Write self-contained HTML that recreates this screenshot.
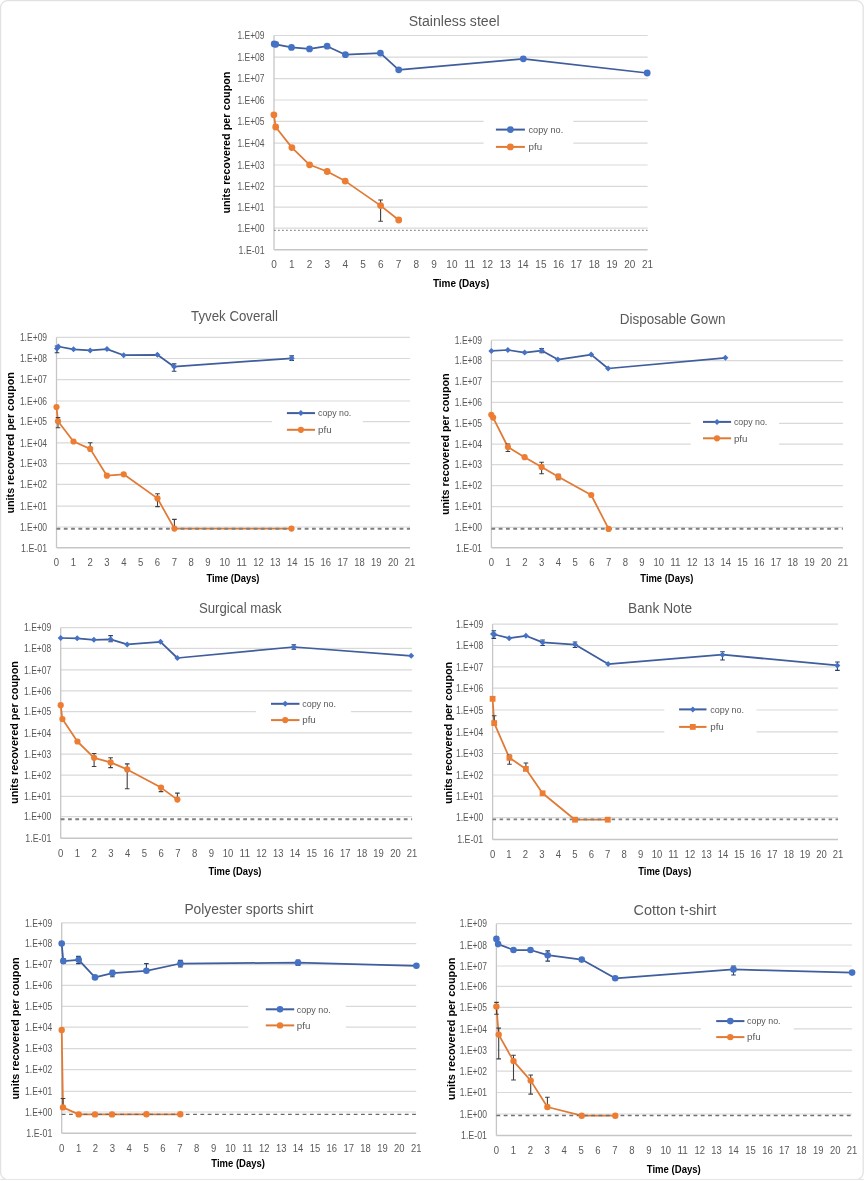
<!DOCTYPE html>
<html><head><meta charset="utf-8"><title>Coronavirus persistence on surfaces</title>
<style>
html,body{margin:0;padding:0;background:#fff;}
body{width:864px;height:1181px;overflow:hidden;}
svg{display:block;font-family:'Liberation Sans', Arial, sans-serif;}
</style></head>
<body>
<svg width="864" height="1181" viewBox="0 0 864 1181">
<defs><filter id="bl" x="0" y="0" width="1" height="1"><feGaussianBlur stdDeviation="0.35"/></filter></defs>
<rect x="0" y="0" width="864" height="1181" fill="#fff"/>
<g filter="url(#bl)">
<rect x="0.6" y="0.6" width="862.6" height="1179" rx="7" ry="7" fill="none" stroke="#e2e2e2" stroke-width="1.3"/>
<line x1="0" y1="1180" x2="864" y2="1180" stroke="#e6e6e6" stroke-width="2"/>
<line x1="274" y1="35.5" x2="647.6" y2="35.5" stroke="#d9d9d9" stroke-width="1.2"/>
<line x1="274" y1="57.1" x2="647.6" y2="57.1" stroke="#d9d9d9" stroke-width="1.2"/>
<line x1="274" y1="78.7" x2="647.6" y2="78.7" stroke="#d9d9d9" stroke-width="1.2"/>
<line x1="274" y1="100" x2="647.6" y2="100" stroke="#d9d9d9" stroke-width="1.2"/>
<line x1="274" y1="121.4" x2="647.6" y2="121.4" stroke="#d9d9d9" stroke-width="1.2"/>
<line x1="274" y1="143.2" x2="647.6" y2="143.2" stroke="#d9d9d9" stroke-width="1.2"/>
<line x1="274" y1="165" x2="647.6" y2="165" stroke="#d9d9d9" stroke-width="1.2"/>
<line x1="274" y1="186.4" x2="647.6" y2="186.4" stroke="#d9d9d9" stroke-width="1.2"/>
<line x1="274" y1="207.1" x2="647.6" y2="207.1" stroke="#d9d9d9" stroke-width="1.2"/>
<line x1="274" y1="228.1" x2="647.6" y2="228.1" stroke="#d9d9d9" stroke-width="1.2"/>
<rect x="483.6" y="115" width="89.7" height="40" fill="#fff"/>
<line x1="274" y1="249.8" x2="647.6" y2="249.8" stroke="#c6c6c6" stroke-width="1.5"/>
<line x1="274" y1="35.5" x2="274" y2="249.8" stroke="#c6c6c6" stroke-width="1.3"/>
<text x="264.6" y="39.2" text-anchor="end" font-size="11.2" fill="#595959" textLength="27.2" lengthAdjust="spacingAndGlyphs">1.E+09</text>
<text x="264.6" y="60.8" text-anchor="end" font-size="11.2" fill="#595959" textLength="27.2" lengthAdjust="spacingAndGlyphs">1.E+08</text>
<text x="264.6" y="82.4" text-anchor="end" font-size="11.2" fill="#595959" textLength="27.2" lengthAdjust="spacingAndGlyphs">1.E+07</text>
<text x="264.6" y="103.7" text-anchor="end" font-size="11.2" fill="#595959" textLength="27.2" lengthAdjust="spacingAndGlyphs">1.E+06</text>
<text x="264.6" y="125.1" text-anchor="end" font-size="11.2" fill="#595959" textLength="27.2" lengthAdjust="spacingAndGlyphs">1.E+05</text>
<text x="264.6" y="146.9" text-anchor="end" font-size="11.2" fill="#595959" textLength="27.2" lengthAdjust="spacingAndGlyphs">1.E+04</text>
<text x="264.6" y="168.7" text-anchor="end" font-size="11.2" fill="#595959" textLength="27.2" lengthAdjust="spacingAndGlyphs">1.E+03</text>
<text x="264.6" y="190.1" text-anchor="end" font-size="11.2" fill="#595959" textLength="27.2" lengthAdjust="spacingAndGlyphs">1.E+02</text>
<text x="264.6" y="210.8" text-anchor="end" font-size="11.2" fill="#595959" textLength="27.2" lengthAdjust="spacingAndGlyphs">1.E+01</text>
<text x="264.6" y="231.8" text-anchor="end" font-size="11.2" fill="#595959" textLength="27.2" lengthAdjust="spacingAndGlyphs">1.E+00</text>
<text x="264.6" y="253.5" text-anchor="end" font-size="11.2" fill="#595959" textLength="26.0" lengthAdjust="spacingAndGlyphs">1.E-01</text>
<text x="274" y="268.2" text-anchor="middle" font-size="11" fill="#595959" textLength="5.6" lengthAdjust="spacingAndGlyphs">0</text>
<text x="291.8" y="268.2" text-anchor="middle" font-size="11" fill="#595959" textLength="5.6" lengthAdjust="spacingAndGlyphs">1</text>
<text x="309.6" y="268.2" text-anchor="middle" font-size="11" fill="#595959" textLength="5.6" lengthAdjust="spacingAndGlyphs">2</text>
<text x="327.4" y="268.2" text-anchor="middle" font-size="11" fill="#595959" textLength="5.6" lengthAdjust="spacingAndGlyphs">3</text>
<text x="345.2" y="268.2" text-anchor="middle" font-size="11" fill="#595959" textLength="5.6" lengthAdjust="spacingAndGlyphs">4</text>
<text x="363" y="268.2" text-anchor="middle" font-size="11" fill="#595959" textLength="5.6" lengthAdjust="spacingAndGlyphs">5</text>
<text x="380.7" y="268.2" text-anchor="middle" font-size="11" fill="#595959" textLength="5.6" lengthAdjust="spacingAndGlyphs">6</text>
<text x="398.5" y="268.2" text-anchor="middle" font-size="11" fill="#595959" textLength="5.6" lengthAdjust="spacingAndGlyphs">7</text>
<text x="416.3" y="268.2" text-anchor="middle" font-size="11" fill="#595959" textLength="5.6" lengthAdjust="spacingAndGlyphs">8</text>
<text x="434.1" y="268.2" text-anchor="middle" font-size="11" fill="#595959" textLength="5.6" lengthAdjust="spacingAndGlyphs">9</text>
<text x="451.9" y="268.2" text-anchor="middle" font-size="11" fill="#595959" textLength="11.1" lengthAdjust="spacingAndGlyphs">10</text>
<text x="469.7" y="268.2" text-anchor="middle" font-size="11" fill="#595959" textLength="11.1" lengthAdjust="spacingAndGlyphs">11</text>
<text x="487.5" y="268.2" text-anchor="middle" font-size="11" fill="#595959" textLength="11.1" lengthAdjust="spacingAndGlyphs">12</text>
<text x="505.3" y="268.2" text-anchor="middle" font-size="11" fill="#595959" textLength="11.1" lengthAdjust="spacingAndGlyphs">13</text>
<text x="523.1" y="268.2" text-anchor="middle" font-size="11" fill="#595959" textLength="11.1" lengthAdjust="spacingAndGlyphs">14</text>
<text x="540.9" y="268.2" text-anchor="middle" font-size="11" fill="#595959" textLength="11.1" lengthAdjust="spacingAndGlyphs">15</text>
<text x="558.6" y="268.2" text-anchor="middle" font-size="11" fill="#595959" textLength="11.1" lengthAdjust="spacingAndGlyphs">16</text>
<text x="576.4" y="268.2" text-anchor="middle" font-size="11" fill="#595959" textLength="11.1" lengthAdjust="spacingAndGlyphs">17</text>
<text x="594.2" y="268.2" text-anchor="middle" font-size="11" fill="#595959" textLength="11.1" lengthAdjust="spacingAndGlyphs">18</text>
<text x="612" y="268.2" text-anchor="middle" font-size="11" fill="#595959" textLength="11.1" lengthAdjust="spacingAndGlyphs">19</text>
<text x="629.8" y="268.2" text-anchor="middle" font-size="11" fill="#595959" textLength="11.1" lengthAdjust="spacingAndGlyphs">20</text>
<text x="647.6" y="268.2" text-anchor="middle" font-size="11" fill="#595959" textLength="11.1" lengthAdjust="spacingAndGlyphs">21</text>
<text x="408.7" y="26.1" font-size="15.5" fill="#595959" textLength="91" lengthAdjust="spacingAndGlyphs">Stainless steel</text>
<text x="432.9" y="286.6" font-size="11" font-weight="bold" fill="#000" textLength="56.4" lengthAdjust="spacingAndGlyphs">Time (Days)</text>
<text transform="translate(229.8 213.6) rotate(-90)" x="0" y="0" font-size="11" font-weight="bold" fill="#000" textLength="142" lengthAdjust="spacingAndGlyphs">units recovered per coupon</text>
<polyline points="274.2,44 275.8,44.3 291.5,47.4 309.5,48.9 327.1,46.2 345.4,54.7 380.4,53.1 398.7,69.8 523.3,58.8 647.2,73" fill="none" stroke="#3f5d9c" stroke-width="1.75" stroke-linejoin="round"/>
<polyline points="273.9,114.8 275.7,127 291.9,147.6 309.6,164.8 327.2,171.5 345.2,181.1 380.6,205.6 398.7,220" fill="none" stroke="#e07a35" stroke-width="1.75" stroke-linejoin="round"/>
<line x1="274" y1="230.3" x2="647.6" y2="230.3" stroke="#7a7a7a" stroke-width="1.0" stroke-dasharray="1.8 2.2"/>
<path d="M380.6 200V221.3M378.3 200H382.9M378.3 221.3H382.9" stroke="#404040" stroke-width="1.1" fill="none"/>
<circle cx="274.2" cy="44" r="3.4" fill="#4472C4"/>
<circle cx="275.8" cy="44.3" r="3.4" fill="#4472C4"/>
<circle cx="291.5" cy="47.4" r="3.4" fill="#4472C4"/>
<circle cx="309.5" cy="48.9" r="3.4" fill="#4472C4"/>
<circle cx="327.1" cy="46.2" r="3.4" fill="#4472C4"/>
<circle cx="345.4" cy="54.7" r="3.4" fill="#4472C4"/>
<circle cx="380.4" cy="53.1" r="3.4" fill="#4472C4"/>
<circle cx="398.7" cy="69.8" r="3.4" fill="#4472C4"/>
<circle cx="523.3" cy="58.8" r="3.4" fill="#4472C4"/>
<circle cx="647.2" cy="73" r="3.4" fill="#4472C4"/>
<circle cx="273.9" cy="114.8" r="3.4" fill="#ED7D31"/>
<circle cx="275.7" cy="127" r="3.4" fill="#ED7D31"/>
<circle cx="291.9" cy="147.6" r="3.4" fill="#ED7D31"/>
<circle cx="309.6" cy="164.8" r="3.4" fill="#ED7D31"/>
<circle cx="327.2" cy="171.5" r="3.4" fill="#ED7D31"/>
<circle cx="345.2" cy="181.1" r="3.4" fill="#ED7D31"/>
<circle cx="380.6" cy="205.6" r="3.4" fill="#ED7D31"/>
<circle cx="398.7" cy="220" r="3.4" fill="#ED7D31"/>
<line x1="495.9" y1="129.6" x2="524.9" y2="129.6" stroke="#3f5d9c" stroke-width="2"/>
<line x1="495.9" y1="146.9" x2="524.9" y2="146.9" stroke="#e07a35" stroke-width="2"/>
<circle cx="510.4" cy="129.6" r="3.4" fill="#4472C4"/>
<circle cx="510.4" cy="146.9" r="3.4" fill="#ED7D31"/>
<text x="528.5" y="132.9" font-size="9.6" fill="#595959" textLength="34.7" lengthAdjust="spacingAndGlyphs">copy no.</text>
<text x="528.5" y="150.2" font-size="9.6" fill="#595959" textLength="13.6" lengthAdjust="spacingAndGlyphs">pfu</text>
<line x1="56.5" y1="337.4" x2="410" y2="337.4" stroke="#d9d9d9" stroke-width="1.2"/>
<line x1="56.5" y1="358.5" x2="410" y2="358.5" stroke="#d9d9d9" stroke-width="1.2"/>
<line x1="56.5" y1="379.6" x2="410" y2="379.6" stroke="#d9d9d9" stroke-width="1.2"/>
<line x1="56.5" y1="401" x2="410" y2="401" stroke="#d9d9d9" stroke-width="1.2"/>
<line x1="56.5" y1="421.7" x2="410" y2="421.7" stroke="#d9d9d9" stroke-width="1.2"/>
<line x1="56.5" y1="442.8" x2="410" y2="442.8" stroke="#d9d9d9" stroke-width="1.2"/>
<line x1="56.5" y1="463.7" x2="410" y2="463.7" stroke="#d9d9d9" stroke-width="1.2"/>
<line x1="56.5" y1="484.4" x2="410" y2="484.4" stroke="#d9d9d9" stroke-width="1.2"/>
<line x1="56.5" y1="506.1" x2="410" y2="506.1" stroke="#d9d9d9" stroke-width="1.2"/>
<line x1="56.5" y1="527" x2="410" y2="527" stroke="#d9d9d9" stroke-width="1.2"/>
<rect x="272" y="405" width="90.8" height="33" fill="#fff"/>
<line x1="56.5" y1="547.8" x2="410" y2="547.8" stroke="#c6c6c6" stroke-width="1.5"/>
<line x1="56.5" y1="337.4" x2="56.5" y2="547.8" stroke="#c6c6c6" stroke-width="1.3"/>
<text x="47.1" y="341.1" text-anchor="end" font-size="10.6" fill="#595959" textLength="27.2" lengthAdjust="spacingAndGlyphs">1.E+09</text>
<text x="47.1" y="362.2" text-anchor="end" font-size="10.6" fill="#595959" textLength="27.2" lengthAdjust="spacingAndGlyphs">1.E+08</text>
<text x="47.1" y="383.3" text-anchor="end" font-size="10.6" fill="#595959" textLength="27.2" lengthAdjust="spacingAndGlyphs">1.E+07</text>
<text x="47.1" y="404.7" text-anchor="end" font-size="10.6" fill="#595959" textLength="27.2" lengthAdjust="spacingAndGlyphs">1.E+06</text>
<text x="47.1" y="425.4" text-anchor="end" font-size="10.6" fill="#595959" textLength="27.2" lengthAdjust="spacingAndGlyphs">1.E+05</text>
<text x="47.1" y="446.5" text-anchor="end" font-size="10.6" fill="#595959" textLength="27.2" lengthAdjust="spacingAndGlyphs">1.E+04</text>
<text x="47.1" y="467.4" text-anchor="end" font-size="10.6" fill="#595959" textLength="27.2" lengthAdjust="spacingAndGlyphs">1.E+03</text>
<text x="47.1" y="488.1" text-anchor="end" font-size="10.6" fill="#595959" textLength="27.2" lengthAdjust="spacingAndGlyphs">1.E+02</text>
<text x="47.1" y="509.8" text-anchor="end" font-size="10.6" fill="#595959" textLength="27.2" lengthAdjust="spacingAndGlyphs">1.E+01</text>
<text x="47.1" y="530.7" text-anchor="end" font-size="10.6" fill="#595959" textLength="27.2" lengthAdjust="spacingAndGlyphs">1.E+00</text>
<text x="47.1" y="551.5" text-anchor="end" font-size="10.6" fill="#595959" textLength="26.0" lengthAdjust="spacingAndGlyphs">1.E-01</text>
<text x="56.5" y="566.2" text-anchor="middle" font-size="10.4" fill="#595959" textLength="5.3" lengthAdjust="spacingAndGlyphs">0</text>
<text x="73.3" y="566.2" text-anchor="middle" font-size="10.4" fill="#595959" textLength="5.3" lengthAdjust="spacingAndGlyphs">1</text>
<text x="90.2" y="566.2" text-anchor="middle" font-size="10.4" fill="#595959" textLength="5.3" lengthAdjust="spacingAndGlyphs">2</text>
<text x="107" y="566.2" text-anchor="middle" font-size="10.4" fill="#595959" textLength="5.3" lengthAdjust="spacingAndGlyphs">3</text>
<text x="123.8" y="566.2" text-anchor="middle" font-size="10.4" fill="#595959" textLength="5.3" lengthAdjust="spacingAndGlyphs">4</text>
<text x="140.7" y="566.2" text-anchor="middle" font-size="10.4" fill="#595959" textLength="5.3" lengthAdjust="spacingAndGlyphs">5</text>
<text x="157.5" y="566.2" text-anchor="middle" font-size="10.4" fill="#595959" textLength="5.3" lengthAdjust="spacingAndGlyphs">6</text>
<text x="174.3" y="566.2" text-anchor="middle" font-size="10.4" fill="#595959" textLength="5.3" lengthAdjust="spacingAndGlyphs">7</text>
<text x="191.2" y="566.2" text-anchor="middle" font-size="10.4" fill="#595959" textLength="5.3" lengthAdjust="spacingAndGlyphs">8</text>
<text x="208" y="566.2" text-anchor="middle" font-size="10.4" fill="#595959" textLength="5.3" lengthAdjust="spacingAndGlyphs">9</text>
<text x="224.8" y="566.2" text-anchor="middle" font-size="10.4" fill="#595959" textLength="10.5" lengthAdjust="spacingAndGlyphs">10</text>
<text x="241.7" y="566.2" text-anchor="middle" font-size="10.4" fill="#595959" textLength="10.5" lengthAdjust="spacingAndGlyphs">11</text>
<text x="258.5" y="566.2" text-anchor="middle" font-size="10.4" fill="#595959" textLength="10.5" lengthAdjust="spacingAndGlyphs">12</text>
<text x="275.3" y="566.2" text-anchor="middle" font-size="10.4" fill="#595959" textLength="10.5" lengthAdjust="spacingAndGlyphs">13</text>
<text x="292.2" y="566.2" text-anchor="middle" font-size="10.4" fill="#595959" textLength="10.5" lengthAdjust="spacingAndGlyphs">14</text>
<text x="309" y="566.2" text-anchor="middle" font-size="10.4" fill="#595959" textLength="10.5" lengthAdjust="spacingAndGlyphs">15</text>
<text x="325.8" y="566.2" text-anchor="middle" font-size="10.4" fill="#595959" textLength="10.5" lengthAdjust="spacingAndGlyphs">16</text>
<text x="342.7" y="566.2" text-anchor="middle" font-size="10.4" fill="#595959" textLength="10.5" lengthAdjust="spacingAndGlyphs">17</text>
<text x="359.5" y="566.2" text-anchor="middle" font-size="10.4" fill="#595959" textLength="10.5" lengthAdjust="spacingAndGlyphs">18</text>
<text x="376.3" y="566.2" text-anchor="middle" font-size="10.4" fill="#595959" textLength="10.5" lengthAdjust="spacingAndGlyphs">19</text>
<text x="393.2" y="566.2" text-anchor="middle" font-size="10.4" fill="#595959" textLength="10.5" lengthAdjust="spacingAndGlyphs">20</text>
<text x="410" y="566.2" text-anchor="middle" font-size="10.4" fill="#595959" textLength="10.5" lengthAdjust="spacingAndGlyphs">21</text>
<text x="191.1" y="321.3" font-size="14.6" fill="#595959" textLength="86.9" lengthAdjust="spacingAndGlyphs">Tyvek Coverall</text>
<text x="206.4" y="581.9" font-size="10.4" font-weight="bold" fill="#000" textLength="53.1" lengthAdjust="spacingAndGlyphs">Time (Days)</text>
<text transform="translate(14.1 513.5) rotate(-90)" x="0" y="0" font-size="10.4" font-weight="bold" fill="#000" textLength="141.3" lengthAdjust="spacingAndGlyphs">units recovered per coupon</text>
<polyline points="57,348.5 58.3,346.5 73.5,349.3 90.2,350.4 107,349.1 123.7,355.2 157.4,354.8 174.1,366.7 291.7,358.3" fill="none" stroke="#3f5d9c" stroke-width="1.75" stroke-linejoin="round"/>
<polyline points="56.5,407 58,421.3 73.5,441.5 90.2,448.9 106.9,475.7 123.7,474.3 157.5,498.4 174.4,528.6 291.5,528.6" fill="none" stroke="#e07a35" stroke-width="1.75" stroke-linejoin="round"/>
<line x1="56.5" y1="528.7" x2="410" y2="528.7" stroke="#7f7f7f" stroke-width="1.9" stroke-dasharray="3.8 3.5"/>
<path d="M57 346V352.8M54.7 346H59.3M54.7 352.8H59.3" stroke="#2b3f66" stroke-width="1.1" fill="none"/>
<path d="M174.1 363.9V371.3M171.8 363.9H176.4M171.8 371.3H176.4" stroke="#2b3f66" stroke-width="1.1" fill="none"/>
<path d="M291.7 355.9V360.4M289.4 355.9H294M289.4 360.4H294" stroke="#2b3f66" stroke-width="1.1" fill="none"/>
<path d="M58 417.6V427.8M55.7 417.6H60.3M55.7 427.8H60.3" stroke="#404040" stroke-width="1.1" fill="none"/>
<path d="M90.2 442.8V448.9M87.9 442.8H92.5" stroke="#404040" stroke-width="1.1" fill="none"/>
<path d="M157.5 493.8V506.6M155.2 493.8H159.8M155.2 506.6H159.8" stroke="#404040" stroke-width="1.1" fill="none"/>
<path d="M174.4 519.4V528.6M172.1 519.4H176.7" stroke="#404040" stroke-width="1.1" fill="none"/>
<path d="M57 345.5L60 348.5L57 351.5L54 348.5Z" fill="#4472C4"/>
<path d="M58.3 343.5L61.3 346.5L58.3 349.5L55.3 346.5Z" fill="#4472C4"/>
<path d="M73.5 346.3L76.5 349.3L73.5 352.3L70.5 349.3Z" fill="#4472C4"/>
<path d="M90.2 347.4L93.2 350.4L90.2 353.4L87.2 350.4Z" fill="#4472C4"/>
<path d="M107 346.1L110 349.1L107 352.1L104 349.1Z" fill="#4472C4"/>
<path d="M123.7 352.2L126.7 355.2L123.7 358.2L120.7 355.2Z" fill="#4472C4"/>
<path d="M157.4 351.8L160.4 354.8L157.4 357.8L154.4 354.8Z" fill="#4472C4"/>
<path d="M174.1 363.7L177.1 366.7L174.1 369.7L171.1 366.7Z" fill="#4472C4"/>
<path d="M291.7 355.3L294.7 358.3L291.7 361.3L288.7 358.3Z" fill="#4472C4"/>
<circle cx="56.5" cy="407" r="3.1" fill="#ED7D31"/>
<circle cx="58" cy="421.3" r="3.1" fill="#ED7D31"/>
<circle cx="73.5" cy="441.5" r="3.1" fill="#ED7D31"/>
<circle cx="90.2" cy="448.9" r="3.1" fill="#ED7D31"/>
<circle cx="106.9" cy="475.7" r="3.1" fill="#ED7D31"/>
<circle cx="123.7" cy="474.3" r="3.1" fill="#ED7D31"/>
<circle cx="157.5" cy="498.4" r="3.1" fill="#ED7D31"/>
<circle cx="174.4" cy="528.6" r="3.1" fill="#ED7D31"/>
<circle cx="291.5" cy="528.6" r="3.1" fill="#ED7D31"/>
<line x1="286.9" y1="413.1" x2="315" y2="413.1" stroke="#3f5d9c" stroke-width="2"/>
<line x1="286.9" y1="429.8" x2="315" y2="429.8" stroke="#e07a35" stroke-width="2"/>
<path d="M300.9 410.1L303.9 413.1L300.9 416.1L297.9 413.1Z" fill="#4472C4"/>
<circle cx="300.9" cy="429.8" r="3.1" fill="#ED7D31"/>
<text x="318" y="416.4" font-size="9.6" fill="#595959" textLength="33.3" lengthAdjust="spacingAndGlyphs">copy no.</text>
<text x="318" y="433.1" font-size="9.6" fill="#595959" textLength="13.6" lengthAdjust="spacingAndGlyphs">pfu</text>
<line x1="491.4" y1="340.2" x2="842.9" y2="340.2" stroke="#d9d9d9" stroke-width="1.2"/>
<line x1="491.4" y1="360.7" x2="842.9" y2="360.7" stroke="#d9d9d9" stroke-width="1.2"/>
<line x1="491.4" y1="381.7" x2="842.9" y2="381.7" stroke="#d9d9d9" stroke-width="1.2"/>
<line x1="491.4" y1="402.4" x2="842.9" y2="402.4" stroke="#d9d9d9" stroke-width="1.2"/>
<line x1="491.4" y1="423.3" x2="842.9" y2="423.3" stroke="#d9d9d9" stroke-width="1.2"/>
<line x1="491.4" y1="444.2" x2="842.9" y2="444.2" stroke="#d9d9d9" stroke-width="1.2"/>
<line x1="491.4" y1="464.6" x2="842.9" y2="464.6" stroke="#d9d9d9" stroke-width="1.2"/>
<line x1="491.4" y1="485.7" x2="842.9" y2="485.7" stroke="#d9d9d9" stroke-width="1.2"/>
<line x1="491.4" y1="506.7" x2="842.9" y2="506.7" stroke="#d9d9d9" stroke-width="1.2"/>
<line x1="491.4" y1="527.3" x2="842.9" y2="527.3" stroke="#d9d9d9" stroke-width="1.2"/>
<rect x="690.6" y="412" width="88.4" height="37" fill="#fff"/>
<line x1="491.4" y1="547.8" x2="842.9" y2="547.8" stroke="#c6c6c6" stroke-width="1.5"/>
<line x1="491.4" y1="340.2" x2="491.4" y2="547.8" stroke="#c6c6c6" stroke-width="1.3"/>
<text x="482" y="343.9" text-anchor="end" font-size="10.6" fill="#595959" textLength="27.2" lengthAdjust="spacingAndGlyphs">1.E+09</text>
<text x="482" y="364.4" text-anchor="end" font-size="10.6" fill="#595959" textLength="27.2" lengthAdjust="spacingAndGlyphs">1.E+08</text>
<text x="482" y="385.4" text-anchor="end" font-size="10.6" fill="#595959" textLength="27.2" lengthAdjust="spacingAndGlyphs">1.E+07</text>
<text x="482" y="406.1" text-anchor="end" font-size="10.6" fill="#595959" textLength="27.2" lengthAdjust="spacingAndGlyphs">1.E+06</text>
<text x="482" y="427" text-anchor="end" font-size="10.6" fill="#595959" textLength="27.2" lengthAdjust="spacingAndGlyphs">1.E+05</text>
<text x="482" y="447.9" text-anchor="end" font-size="10.6" fill="#595959" textLength="27.2" lengthAdjust="spacingAndGlyphs">1.E+04</text>
<text x="482" y="468.3" text-anchor="end" font-size="10.6" fill="#595959" textLength="27.2" lengthAdjust="spacingAndGlyphs">1.E+03</text>
<text x="482" y="489.4" text-anchor="end" font-size="10.6" fill="#595959" textLength="27.2" lengthAdjust="spacingAndGlyphs">1.E+02</text>
<text x="482" y="510.4" text-anchor="end" font-size="10.6" fill="#595959" textLength="27.2" lengthAdjust="spacingAndGlyphs">1.E+01</text>
<text x="482" y="531" text-anchor="end" font-size="10.6" fill="#595959" textLength="27.2" lengthAdjust="spacingAndGlyphs">1.E+00</text>
<text x="482" y="551.5" text-anchor="end" font-size="10.6" fill="#595959" textLength="26.0" lengthAdjust="spacingAndGlyphs">1.E-01</text>
<text x="491.4" y="566.2" text-anchor="middle" font-size="10.4" fill="#595959" textLength="5.3" lengthAdjust="spacingAndGlyphs">0</text>
<text x="508.1" y="566.2" text-anchor="middle" font-size="10.4" fill="#595959" textLength="5.3" lengthAdjust="spacingAndGlyphs">1</text>
<text x="524.9" y="566.2" text-anchor="middle" font-size="10.4" fill="#595959" textLength="5.3" lengthAdjust="spacingAndGlyphs">2</text>
<text x="541.6" y="566.2" text-anchor="middle" font-size="10.4" fill="#595959" textLength="5.3" lengthAdjust="spacingAndGlyphs">3</text>
<text x="558.4" y="566.2" text-anchor="middle" font-size="10.4" fill="#595959" textLength="5.3" lengthAdjust="spacingAndGlyphs">4</text>
<text x="575.1" y="566.2" text-anchor="middle" font-size="10.4" fill="#595959" textLength="5.3" lengthAdjust="spacingAndGlyphs">5</text>
<text x="591.8" y="566.2" text-anchor="middle" font-size="10.4" fill="#595959" textLength="5.3" lengthAdjust="spacingAndGlyphs">6</text>
<text x="608.6" y="566.2" text-anchor="middle" font-size="10.4" fill="#595959" textLength="5.3" lengthAdjust="spacingAndGlyphs">7</text>
<text x="625.3" y="566.2" text-anchor="middle" font-size="10.4" fill="#595959" textLength="5.3" lengthAdjust="spacingAndGlyphs">8</text>
<text x="642" y="566.2" text-anchor="middle" font-size="10.4" fill="#595959" textLength="5.3" lengthAdjust="spacingAndGlyphs">9</text>
<text x="658.8" y="566.2" text-anchor="middle" font-size="10.4" fill="#595959" textLength="10.5" lengthAdjust="spacingAndGlyphs">10</text>
<text x="675.5" y="566.2" text-anchor="middle" font-size="10.4" fill="#595959" textLength="10.5" lengthAdjust="spacingAndGlyphs">11</text>
<text x="692.3" y="566.2" text-anchor="middle" font-size="10.4" fill="#595959" textLength="10.5" lengthAdjust="spacingAndGlyphs">12</text>
<text x="709" y="566.2" text-anchor="middle" font-size="10.4" fill="#595959" textLength="10.5" lengthAdjust="spacingAndGlyphs">13</text>
<text x="725.7" y="566.2" text-anchor="middle" font-size="10.4" fill="#595959" textLength="10.5" lengthAdjust="spacingAndGlyphs">14</text>
<text x="742.5" y="566.2" text-anchor="middle" font-size="10.4" fill="#595959" textLength="10.5" lengthAdjust="spacingAndGlyphs">15</text>
<text x="759.2" y="566.2" text-anchor="middle" font-size="10.4" fill="#595959" textLength="10.5" lengthAdjust="spacingAndGlyphs">16</text>
<text x="775.9" y="566.2" text-anchor="middle" font-size="10.4" fill="#595959" textLength="10.5" lengthAdjust="spacingAndGlyphs">17</text>
<text x="792.7" y="566.2" text-anchor="middle" font-size="10.4" fill="#595959" textLength="10.5" lengthAdjust="spacingAndGlyphs">18</text>
<text x="809.4" y="566.2" text-anchor="middle" font-size="10.4" fill="#595959" textLength="10.5" lengthAdjust="spacingAndGlyphs">19</text>
<text x="826.2" y="566.2" text-anchor="middle" font-size="10.4" fill="#595959" textLength="10.5" lengthAdjust="spacingAndGlyphs">20</text>
<text x="842.9" y="566.2" text-anchor="middle" font-size="10.4" fill="#595959" textLength="10.5" lengthAdjust="spacingAndGlyphs">21</text>
<text x="619.8" y="323.7" font-size="14.6" fill="#595959" textLength="105.6" lengthAdjust="spacingAndGlyphs">Disposable Gown</text>
<text x="640.3" y="582.1" font-size="10.4" font-weight="bold" fill="#000" textLength="53.2" lengthAdjust="spacingAndGlyphs">Time (Days)</text>
<text transform="translate(449 515.1) rotate(-90)" x="0" y="0" font-size="10.4" font-weight="bold" fill="#000" textLength="141.7" lengthAdjust="spacingAndGlyphs">units recovered per coupon</text>
<polyline points="491.4,350.9 507.9,350 524.6,352.6 541.6,350.6 557.9,359.6 591.2,354.6 608.1,368.5 725.4,357.8" fill="none" stroke="#3f5d9c" stroke-width="1.75" stroke-linejoin="round"/>
<polyline points="491.3,414.8 493.1,417.6 507.9,447 524.6,457.2 541.6,466.9 558.3,476.7 591.2,495 608.6,528.9" fill="none" stroke="#e07a35" stroke-width="1.75" stroke-linejoin="round"/>
<line x1="491.4" y1="528.8" x2="842.9" y2="528.8" stroke="#7f7f7f" stroke-width="1.9" stroke-dasharray="3.8 3.5"/>
<path d="M541.6 348.5V352.8M539.3 348.5H543.9M539.3 352.8H543.9" stroke="#2b3f66" stroke-width="1.1" fill="none"/>
<path d="M507.9 444V451.5M505.6 444H510.2M505.6 451.5H510.2" stroke="#404040" stroke-width="1.1" fill="none"/>
<path d="M541.6 462.2V473.7M539.3 462.2H543.9M539.3 473.7H543.9" stroke="#404040" stroke-width="1.1" fill="none"/>
<path d="M558.3 474.3V479.8M556 474.3H560.6M556 479.8H560.6" stroke="#404040" stroke-width="1.1" fill="none"/>
<path d="M491.4 347.9L494.4 350.9L491.4 353.9L488.4 350.9Z" fill="#4472C4"/>
<path d="M507.9 347L510.9 350L507.9 353L504.9 350Z" fill="#4472C4"/>
<path d="M524.6 349.6L527.6 352.6L524.6 355.6L521.6 352.6Z" fill="#4472C4"/>
<path d="M541.6 347.6L544.6 350.6L541.6 353.6L538.6 350.6Z" fill="#4472C4"/>
<path d="M557.9 356.6L560.9 359.6L557.9 362.6L554.9 359.6Z" fill="#4472C4"/>
<path d="M591.2 351.6L594.2 354.6L591.2 357.6L588.2 354.6Z" fill="#4472C4"/>
<path d="M608.1 365.5L611.1 368.5L608.1 371.5L605.1 368.5Z" fill="#4472C4"/>
<path d="M725.4 354.8L728.4 357.8L725.4 360.8L722.4 357.8Z" fill="#4472C4"/>
<circle cx="491.3" cy="414.8" r="3.1" fill="#ED7D31"/>
<circle cx="493.1" cy="417.6" r="3.1" fill="#ED7D31"/>
<circle cx="507.9" cy="447" r="3.1" fill="#ED7D31"/>
<circle cx="524.6" cy="457.2" r="3.1" fill="#ED7D31"/>
<circle cx="541.6" cy="466.9" r="3.1" fill="#ED7D31"/>
<circle cx="558.3" cy="476.7" r="3.1" fill="#ED7D31"/>
<circle cx="591.2" cy="495" r="3.1" fill="#ED7D31"/>
<circle cx="608.6" cy="528.9" r="3.1" fill="#ED7D31"/>
<line x1="703" y1="421.9" x2="731.1" y2="421.9" stroke="#3f5d9c" stroke-width="2"/>
<line x1="703" y1="438.3" x2="731.1" y2="438.3" stroke="#e07a35" stroke-width="2"/>
<path d="M717 418.9L720 421.9L717 424.9L714 421.9Z" fill="#4472C4"/>
<circle cx="717" cy="438.3" r="3.1" fill="#ED7D31"/>
<text x="733.9" y="425.2" font-size="9.6" fill="#595959" textLength="33.4" lengthAdjust="spacingAndGlyphs">copy no.</text>
<text x="733.9" y="441.6" font-size="9.6" fill="#595959" textLength="13.6" lengthAdjust="spacingAndGlyphs">pfu</text>
<line x1="60.7" y1="627.7" x2="412.1" y2="627.7" stroke="#d9d9d9" stroke-width="1.2"/>
<line x1="60.7" y1="648.3" x2="412.1" y2="648.3" stroke="#d9d9d9" stroke-width="1.2"/>
<line x1="60.7" y1="669.8" x2="412.1" y2="669.8" stroke="#d9d9d9" stroke-width="1.2"/>
<line x1="60.7" y1="690.8" x2="412.1" y2="690.8" stroke="#d9d9d9" stroke-width="1.2"/>
<line x1="60.7" y1="711.7" x2="412.1" y2="711.7" stroke="#d9d9d9" stroke-width="1.2"/>
<line x1="60.7" y1="732.9" x2="412.1" y2="732.9" stroke="#d9d9d9" stroke-width="1.2"/>
<line x1="60.7" y1="754.1" x2="412.1" y2="754.1" stroke="#d9d9d9" stroke-width="1.2"/>
<line x1="60.7" y1="775.2" x2="412.1" y2="775.2" stroke="#d9d9d9" stroke-width="1.2"/>
<line x1="60.7" y1="796.3" x2="412.1" y2="796.3" stroke="#d9d9d9" stroke-width="1.2"/>
<line x1="60.7" y1="816.6" x2="412.1" y2="816.6" stroke="#d9d9d9" stroke-width="1.2"/>
<rect x="255.9" y="696" width="95.2" height="33" fill="#fff"/>
<line x1="60.7" y1="838.3" x2="412.1" y2="838.3" stroke="#c6c6c6" stroke-width="1.5"/>
<line x1="60.7" y1="627.7" x2="60.7" y2="838.3" stroke="#c6c6c6" stroke-width="1.3"/>
<text x="51.3" y="631.4" text-anchor="end" font-size="10.6" fill="#595959" textLength="27.2" lengthAdjust="spacingAndGlyphs">1.E+09</text>
<text x="51.3" y="652" text-anchor="end" font-size="10.6" fill="#595959" textLength="27.2" lengthAdjust="spacingAndGlyphs">1.E+08</text>
<text x="51.3" y="673.5" text-anchor="end" font-size="10.6" fill="#595959" textLength="27.2" lengthAdjust="spacingAndGlyphs">1.E+07</text>
<text x="51.3" y="694.5" text-anchor="end" font-size="10.6" fill="#595959" textLength="27.2" lengthAdjust="spacingAndGlyphs">1.E+06</text>
<text x="51.3" y="715.4" text-anchor="end" font-size="10.6" fill="#595959" textLength="27.2" lengthAdjust="spacingAndGlyphs">1.E+05</text>
<text x="51.3" y="736.6" text-anchor="end" font-size="10.6" fill="#595959" textLength="27.2" lengthAdjust="spacingAndGlyphs">1.E+04</text>
<text x="51.3" y="757.8" text-anchor="end" font-size="10.6" fill="#595959" textLength="27.2" lengthAdjust="spacingAndGlyphs">1.E+03</text>
<text x="51.3" y="778.9" text-anchor="end" font-size="10.6" fill="#595959" textLength="27.2" lengthAdjust="spacingAndGlyphs">1.E+02</text>
<text x="51.3" y="800" text-anchor="end" font-size="10.6" fill="#595959" textLength="27.2" lengthAdjust="spacingAndGlyphs">1.E+01</text>
<text x="51.3" y="820.3" text-anchor="end" font-size="10.6" fill="#595959" textLength="27.2" lengthAdjust="spacingAndGlyphs">1.E+00</text>
<text x="51.3" y="842" text-anchor="end" font-size="10.6" fill="#595959" textLength="26.0" lengthAdjust="spacingAndGlyphs">1.E-01</text>
<text x="60.7" y="856.7" text-anchor="middle" font-size="10.4" fill="#595959" textLength="5.3" lengthAdjust="spacingAndGlyphs">0</text>
<text x="77.4" y="856.7" text-anchor="middle" font-size="10.4" fill="#595959" textLength="5.3" lengthAdjust="spacingAndGlyphs">1</text>
<text x="94.2" y="856.7" text-anchor="middle" font-size="10.4" fill="#595959" textLength="5.3" lengthAdjust="spacingAndGlyphs">2</text>
<text x="110.9" y="856.7" text-anchor="middle" font-size="10.4" fill="#595959" textLength="5.3" lengthAdjust="spacingAndGlyphs">3</text>
<text x="127.6" y="856.7" text-anchor="middle" font-size="10.4" fill="#595959" textLength="5.3" lengthAdjust="spacingAndGlyphs">4</text>
<text x="144.4" y="856.7" text-anchor="middle" font-size="10.4" fill="#595959" textLength="5.3" lengthAdjust="spacingAndGlyphs">5</text>
<text x="161.1" y="856.7" text-anchor="middle" font-size="10.4" fill="#595959" textLength="5.3" lengthAdjust="spacingAndGlyphs">6</text>
<text x="177.8" y="856.7" text-anchor="middle" font-size="10.4" fill="#595959" textLength="5.3" lengthAdjust="spacingAndGlyphs">7</text>
<text x="194.6" y="856.7" text-anchor="middle" font-size="10.4" fill="#595959" textLength="5.3" lengthAdjust="spacingAndGlyphs">8</text>
<text x="211.3" y="856.7" text-anchor="middle" font-size="10.4" fill="#595959" textLength="5.3" lengthAdjust="spacingAndGlyphs">9</text>
<text x="228" y="856.7" text-anchor="middle" font-size="10.4" fill="#595959" textLength="10.5" lengthAdjust="spacingAndGlyphs">10</text>
<text x="244.8" y="856.7" text-anchor="middle" font-size="10.4" fill="#595959" textLength="10.5" lengthAdjust="spacingAndGlyphs">11</text>
<text x="261.5" y="856.7" text-anchor="middle" font-size="10.4" fill="#595959" textLength="10.5" lengthAdjust="spacingAndGlyphs">12</text>
<text x="278.2" y="856.7" text-anchor="middle" font-size="10.4" fill="#595959" textLength="10.5" lengthAdjust="spacingAndGlyphs">13</text>
<text x="295" y="856.7" text-anchor="middle" font-size="10.4" fill="#595959" textLength="10.5" lengthAdjust="spacingAndGlyphs">14</text>
<text x="311.7" y="856.7" text-anchor="middle" font-size="10.4" fill="#595959" textLength="10.5" lengthAdjust="spacingAndGlyphs">15</text>
<text x="328.4" y="856.7" text-anchor="middle" font-size="10.4" fill="#595959" textLength="10.5" lengthAdjust="spacingAndGlyphs">16</text>
<text x="345.2" y="856.7" text-anchor="middle" font-size="10.4" fill="#595959" textLength="10.5" lengthAdjust="spacingAndGlyphs">17</text>
<text x="361.9" y="856.7" text-anchor="middle" font-size="10.4" fill="#595959" textLength="10.5" lengthAdjust="spacingAndGlyphs">18</text>
<text x="378.6" y="856.7" text-anchor="middle" font-size="10.4" fill="#595959" textLength="10.5" lengthAdjust="spacingAndGlyphs">19</text>
<text x="395.4" y="856.7" text-anchor="middle" font-size="10.4" fill="#595959" textLength="10.5" lengthAdjust="spacingAndGlyphs">20</text>
<text x="412.1" y="856.7" text-anchor="middle" font-size="10.4" fill="#595959" textLength="10.5" lengthAdjust="spacingAndGlyphs">21</text>
<text x="199" y="613" font-size="14.6" fill="#595959" textLength="82.7" lengthAdjust="spacingAndGlyphs">Surgical mask</text>
<text x="208.4" y="875.4" font-size="10.4" font-weight="bold" fill="#000" textLength="53.1" lengthAdjust="spacingAndGlyphs">Time (Days)</text>
<text transform="translate(17.5 804) rotate(-90)" x="0" y="0" font-size="10.4" font-weight="bold" fill="#000" textLength="142.9" lengthAdjust="spacingAndGlyphs">units recovered per coupon</text>
<polyline points="60.7,638 77.2,638.3 93.9,639.8 110.6,639.3 127.2,644.4 160.5,641.8 177.4,658 293.8,647 411.2,655.8" fill="none" stroke="#3f5d9c" stroke-width="1.75" stroke-linejoin="round"/>
<polyline points="60.7,705.2 62.4,719.1 77.4,741.5 94.1,757.8 110.6,762.4 127.2,769.4 161,787.6 177.4,799.6" fill="none" stroke="#e07a35" stroke-width="1.75" stroke-linejoin="round"/>
<line x1="60.7" y1="819.2" x2="412.1" y2="819.2" stroke="#7f7f7f" stroke-width="1.9" stroke-dasharray="3.8 3.5"/>
<path d="M110.6 635.6V641.7M108.3 635.6H112.9M108.3 641.7H112.9" stroke="#2b3f66" stroke-width="1.1" fill="none"/>
<path d="M293.8 644.8V649.2M291.5 644.8H296.1M291.5 649.2H296.1" stroke="#2b3f66" stroke-width="1.1" fill="none"/>
<path d="M94.1 753.5V766.5M91.8 753.5H96.4M91.8 766.5H96.4" stroke="#404040" stroke-width="1.1" fill="none"/>
<path d="M110.6 757.8V767.6M108.3 757.8H112.9M108.3 767.6H112.9" stroke="#404040" stroke-width="1.1" fill="none"/>
<path d="M127.2 763.9V788.7M124.9 763.9H129.5M124.9 788.7H129.5" stroke="#404040" stroke-width="1.1" fill="none"/>
<path d="M161 786.2V791.6M158.7 786.2H163.3M158.7 791.6H163.3" stroke="#404040" stroke-width="1.1" fill="none"/>
<path d="M177.4 793.1V799.6M175.1 793.1H179.7" stroke="#404040" stroke-width="1.1" fill="none"/>
<path d="M60.7 635L63.7 638L60.7 641L57.7 638Z" fill="#4472C4"/>
<path d="M77.2 635.3L80.2 638.3L77.2 641.3L74.2 638.3Z" fill="#4472C4"/>
<path d="M93.9 636.8L96.9 639.8L93.9 642.8L90.9 639.8Z" fill="#4472C4"/>
<path d="M110.6 636.3L113.6 639.3L110.6 642.3L107.6 639.3Z" fill="#4472C4"/>
<path d="M127.2 641.4L130.2 644.4L127.2 647.4L124.2 644.4Z" fill="#4472C4"/>
<path d="M160.5 638.8L163.5 641.8L160.5 644.8L157.5 641.8Z" fill="#4472C4"/>
<path d="M177.4 655L180.4 658L177.4 661L174.4 658Z" fill="#4472C4"/>
<path d="M293.8 644L296.8 647L293.8 650L290.8 647Z" fill="#4472C4"/>
<path d="M411.2 652.8L414.2 655.8L411.2 658.8L408.2 655.8Z" fill="#4472C4"/>
<circle cx="60.7" cy="705.2" r="3.1" fill="#ED7D31"/>
<circle cx="62.4" cy="719.1" r="3.1" fill="#ED7D31"/>
<circle cx="77.4" cy="741.5" r="3.1" fill="#ED7D31"/>
<circle cx="94.1" cy="757.8" r="3.1" fill="#ED7D31"/>
<circle cx="110.6" cy="762.4" r="3.1" fill="#ED7D31"/>
<circle cx="127.2" cy="769.4" r="3.1" fill="#ED7D31"/>
<circle cx="161" cy="787.6" r="3.1" fill="#ED7D31"/>
<circle cx="177.4" cy="799.6" r="3.1" fill="#ED7D31"/>
<line x1="271" y1="703.8" x2="299.5" y2="703.8" stroke="#3f5d9c" stroke-width="2"/>
<line x1="271" y1="720.1" x2="299.5" y2="720.1" stroke="#e07a35" stroke-width="2"/>
<path d="M285.2 700.8L288.2 703.8L285.2 706.8L282.2 703.8Z" fill="#4472C4"/>
<circle cx="285.2" cy="720.1" r="3.1" fill="#ED7D31"/>
<text x="302.2" y="707.1" font-size="9.6" fill="#595959" textLength="33.8" lengthAdjust="spacingAndGlyphs">copy no.</text>
<text x="302.2" y="723.4" font-size="9.6" fill="#595959" textLength="13.6" lengthAdjust="spacingAndGlyphs">pfu</text>
<line x1="492.6" y1="624.1" x2="838" y2="624.1" stroke="#d9d9d9" stroke-width="1.2"/>
<line x1="492.6" y1="645.5" x2="838" y2="645.5" stroke="#d9d9d9" stroke-width="1.2"/>
<line x1="492.6" y1="666.8" x2="838" y2="666.8" stroke="#d9d9d9" stroke-width="1.2"/>
<line x1="492.6" y1="688.1" x2="838" y2="688.1" stroke="#d9d9d9" stroke-width="1.2"/>
<line x1="492.6" y1="710" x2="838" y2="710" stroke="#d9d9d9" stroke-width="1.2"/>
<line x1="492.6" y1="731.8" x2="838" y2="731.8" stroke="#d9d9d9" stroke-width="1.2"/>
<line x1="492.6" y1="753.5" x2="838" y2="753.5" stroke="#d9d9d9" stroke-width="1.2"/>
<line x1="492.6" y1="775" x2="838" y2="775" stroke="#d9d9d9" stroke-width="1.2"/>
<line x1="492.6" y1="796.1" x2="838" y2="796.1" stroke="#d9d9d9" stroke-width="1.2"/>
<line x1="492.6" y1="817.6" x2="838" y2="817.6" stroke="#d9d9d9" stroke-width="1.2"/>
<rect x="664.3" y="700" width="92.2" height="38" fill="#fff"/>
<line x1="492.6" y1="839.6" x2="838" y2="839.6" stroke="#c6c6c6" stroke-width="1.5"/>
<line x1="492.6" y1="624.1" x2="492.6" y2="839.6" stroke="#c6c6c6" stroke-width="1.3"/>
<text x="483.2" y="627.8" text-anchor="end" font-size="10.6" fill="#595959" textLength="27.2" lengthAdjust="spacingAndGlyphs">1.E+09</text>
<text x="483.2" y="649.2" text-anchor="end" font-size="10.6" fill="#595959" textLength="27.2" lengthAdjust="spacingAndGlyphs">1.E+08</text>
<text x="483.2" y="670.5" text-anchor="end" font-size="10.6" fill="#595959" textLength="27.2" lengthAdjust="spacingAndGlyphs">1.E+07</text>
<text x="483.2" y="691.8" text-anchor="end" font-size="10.6" fill="#595959" textLength="27.2" lengthAdjust="spacingAndGlyphs">1.E+06</text>
<text x="483.2" y="713.7" text-anchor="end" font-size="10.6" fill="#595959" textLength="27.2" lengthAdjust="spacingAndGlyphs">1.E+05</text>
<text x="483.2" y="735.5" text-anchor="end" font-size="10.6" fill="#595959" textLength="27.2" lengthAdjust="spacingAndGlyphs">1.E+04</text>
<text x="483.2" y="757.2" text-anchor="end" font-size="10.6" fill="#595959" textLength="27.2" lengthAdjust="spacingAndGlyphs">1.E+03</text>
<text x="483.2" y="778.7" text-anchor="end" font-size="10.6" fill="#595959" textLength="27.2" lengthAdjust="spacingAndGlyphs">1.E+02</text>
<text x="483.2" y="799.8" text-anchor="end" font-size="10.6" fill="#595959" textLength="27.2" lengthAdjust="spacingAndGlyphs">1.E+01</text>
<text x="483.2" y="821.3" text-anchor="end" font-size="10.6" fill="#595959" textLength="27.2" lengthAdjust="spacingAndGlyphs">1.E+00</text>
<text x="483.2" y="843.3" text-anchor="end" font-size="10.6" fill="#595959" textLength="26.0" lengthAdjust="spacingAndGlyphs">1.E-01</text>
<text x="492.6" y="858" text-anchor="middle" font-size="10.4" fill="#595959" textLength="5.3" lengthAdjust="spacingAndGlyphs">0</text>
<text x="509" y="858" text-anchor="middle" font-size="10.4" fill="#595959" textLength="5.3" lengthAdjust="spacingAndGlyphs">1</text>
<text x="525.5" y="858" text-anchor="middle" font-size="10.4" fill="#595959" textLength="5.3" lengthAdjust="spacingAndGlyphs">2</text>
<text x="541.9" y="858" text-anchor="middle" font-size="10.4" fill="#595959" textLength="5.3" lengthAdjust="spacingAndGlyphs">3</text>
<text x="558.4" y="858" text-anchor="middle" font-size="10.4" fill="#595959" textLength="5.3" lengthAdjust="spacingAndGlyphs">4</text>
<text x="574.8" y="858" text-anchor="middle" font-size="10.4" fill="#595959" textLength="5.3" lengthAdjust="spacingAndGlyphs">5</text>
<text x="591.3" y="858" text-anchor="middle" font-size="10.4" fill="#595959" textLength="5.3" lengthAdjust="spacingAndGlyphs">6</text>
<text x="607.7" y="858" text-anchor="middle" font-size="10.4" fill="#595959" textLength="5.3" lengthAdjust="spacingAndGlyphs">7</text>
<text x="624.2" y="858" text-anchor="middle" font-size="10.4" fill="#595959" textLength="5.3" lengthAdjust="spacingAndGlyphs">8</text>
<text x="640.6" y="858" text-anchor="middle" font-size="10.4" fill="#595959" textLength="5.3" lengthAdjust="spacingAndGlyphs">9</text>
<text x="657.1" y="858" text-anchor="middle" font-size="10.4" fill="#595959" textLength="10.5" lengthAdjust="spacingAndGlyphs">10</text>
<text x="673.5" y="858" text-anchor="middle" font-size="10.4" fill="#595959" textLength="10.5" lengthAdjust="spacingAndGlyphs">11</text>
<text x="690" y="858" text-anchor="middle" font-size="10.4" fill="#595959" textLength="10.5" lengthAdjust="spacingAndGlyphs">12</text>
<text x="706.4" y="858" text-anchor="middle" font-size="10.4" fill="#595959" textLength="10.5" lengthAdjust="spacingAndGlyphs">13</text>
<text x="722.9" y="858" text-anchor="middle" font-size="10.4" fill="#595959" textLength="10.5" lengthAdjust="spacingAndGlyphs">14</text>
<text x="739.3" y="858" text-anchor="middle" font-size="10.4" fill="#595959" textLength="10.5" lengthAdjust="spacingAndGlyphs">15</text>
<text x="755.8" y="858" text-anchor="middle" font-size="10.4" fill="#595959" textLength="10.5" lengthAdjust="spacingAndGlyphs">16</text>
<text x="772.2" y="858" text-anchor="middle" font-size="10.4" fill="#595959" textLength="10.5" lengthAdjust="spacingAndGlyphs">17</text>
<text x="788.7" y="858" text-anchor="middle" font-size="10.4" fill="#595959" textLength="10.5" lengthAdjust="spacingAndGlyphs">18</text>
<text x="805.1" y="858" text-anchor="middle" font-size="10.4" fill="#595959" textLength="10.5" lengthAdjust="spacingAndGlyphs">19</text>
<text x="821.6" y="858" text-anchor="middle" font-size="10.4" fill="#595959" textLength="10.5" lengthAdjust="spacingAndGlyphs">20</text>
<text x="838" y="858" text-anchor="middle" font-size="10.4" fill="#595959" textLength="10.5" lengthAdjust="spacingAndGlyphs">21</text>
<text x="628.1" y="613" font-size="14.6" fill="#595959" textLength="64" lengthAdjust="spacingAndGlyphs">Bank Note</text>
<text x="638.2" y="875.4" font-size="10.4" font-weight="bold" fill="#000" textLength="53.2" lengthAdjust="spacingAndGlyphs">Time (Days)</text>
<text transform="translate(452.4 804) rotate(-90)" x="0" y="0" font-size="10.4" font-weight="bold" fill="#000" textLength="142.2" lengthAdjust="spacingAndGlyphs">units recovered per coupon</text>
<polyline points="493,634 494.5,634.5 509.2,638.2 525.9,635.8 542.6,642.4 575,644.6 608.1,664.1 722.5,654.7 837.4,665.4" fill="none" stroke="#3f5d9c" stroke-width="1.75" stroke-linejoin="round"/>
<polyline points="492.6,698.8 494.2,723.1 509.4,757.8 525.9,768.9 542.6,793.3 575,819.7 607.8,819.7" fill="none" stroke="#e07a35" stroke-width="1.75" stroke-linejoin="round"/>
<line x1="492.6" y1="819.4" x2="838" y2="819.4" stroke="#7f7f7f" stroke-width="1.6" stroke-dasharray="3.5 3.5"/>
<path d="M493.8 630.8V638.4M491.5 630.8H496.1M491.5 638.4H496.1" stroke="#2b3f66" stroke-width="1.1" fill="none"/>
<path d="M542.6 640V645.5M540.3 640H544.9M540.3 645.5H544.9" stroke="#2b3f66" stroke-width="1.1" fill="none"/>
<path d="M575 642V647.5M572.7 642H577.3M572.7 647.5H577.3" stroke="#2b3f66" stroke-width="1.1" fill="none"/>
<path d="M722.5 651.7V660M720.2 651.7H724.8M720.2 660H724.8" stroke="#2b3f66" stroke-width="1.1" fill="none"/>
<path d="M837.4 662V670.4M835.1 662H839.7M835.1 670.4H839.7" stroke="#2b3f66" stroke-width="1.1" fill="none"/>
<path d="M494.2 715.8V723.1M491.9 715.8H496.5" stroke="#404040" stroke-width="1.1" fill="none"/>
<path d="M509.4 755V764.3M507.1 755H511.7M507.1 764.3H511.7" stroke="#404040" stroke-width="1.1" fill="none"/>
<path d="M525.9 763V768.9M523.6 763H528.2" stroke="#404040" stroke-width="1.1" fill="none"/>
<path d="M493 631L496 634L493 637L490 634Z" fill="#4472C4"/>
<path d="M494.5 631.5L497.5 634.5L494.5 637.5L491.5 634.5Z" fill="#4472C4"/>
<path d="M509.2 635.2L512.2 638.2L509.2 641.2L506.2 638.2Z" fill="#4472C4"/>
<path d="M525.9 632.8L528.9 635.8L525.9 638.8L522.9 635.8Z" fill="#4472C4"/>
<path d="M542.6 639.4L545.6 642.4L542.6 645.4L539.6 642.4Z" fill="#4472C4"/>
<path d="M575 641.6L578 644.6L575 647.6L572 644.6Z" fill="#4472C4"/>
<path d="M608.1 661.1L611.1 664.1L608.1 667.1L605.1 664.1Z" fill="#4472C4"/>
<path d="M722.5 651.7L725.5 654.7L722.5 657.7L719.5 654.7Z" fill="#4472C4"/>
<path d="M837.4 662.4L840.4 665.4L837.4 668.4L834.4 665.4Z" fill="#4472C4"/>
<rect x="489.7" y="695.9" width="5.8" height="5.8" fill="#ED7D31"/>
<rect x="491.3" y="720.2" width="5.8" height="5.8" fill="#ED7D31"/>
<rect x="506.5" y="754.9" width="5.8" height="5.8" fill="#ED7D31"/>
<rect x="523" y="766" width="5.8" height="5.8" fill="#ED7D31"/>
<rect x="539.7" y="790.4" width="5.8" height="5.8" fill="#ED7D31"/>
<rect x="572.1" y="816.8" width="5.8" height="5.8" fill="#ED7D31"/>
<rect x="604.9" y="816.8" width="5.8" height="5.8" fill="#ED7D31"/>
<line x1="679.1" y1="709.4" x2="706.5" y2="709.4" stroke="#3f5d9c" stroke-width="2"/>
<line x1="679.1" y1="726.9" x2="706.5" y2="726.9" stroke="#e07a35" stroke-width="2"/>
<path d="M692.8 706.4L695.8 709.4L692.8 712.4L689.8 709.4Z" fill="#4472C4"/>
<rect x="689.9" y="724" width="5.8" height="5.8" fill="#ED7D31"/>
<text x="710.2" y="712.7" font-size="9.6" fill="#595959" textLength="33.9" lengthAdjust="spacingAndGlyphs">copy no.</text>
<text x="710.2" y="730.2" font-size="9.6" fill="#595959" textLength="13.6" lengthAdjust="spacingAndGlyphs">pfu</text>
<line x1="61.7" y1="922.8" x2="416.2" y2="922.8" stroke="#d9d9d9" stroke-width="1.2"/>
<line x1="61.7" y1="943.7" x2="416.2" y2="943.7" stroke="#d9d9d9" stroke-width="1.2"/>
<line x1="61.7" y1="964.6" x2="416.2" y2="964.6" stroke="#d9d9d9" stroke-width="1.2"/>
<line x1="61.7" y1="985.4" x2="416.2" y2="985.4" stroke="#d9d9d9" stroke-width="1.2"/>
<line x1="61.7" y1="1006.4" x2="416.2" y2="1006.4" stroke="#d9d9d9" stroke-width="1.2"/>
<line x1="61.7" y1="1027.2" x2="416.2" y2="1027.2" stroke="#d9d9d9" stroke-width="1.2"/>
<line x1="61.7" y1="1048.7" x2="416.2" y2="1048.7" stroke="#d9d9d9" stroke-width="1.2"/>
<line x1="61.7" y1="1069.7" x2="416.2" y2="1069.7" stroke="#d9d9d9" stroke-width="1.2"/>
<line x1="61.7" y1="1091.3" x2="416.2" y2="1091.3" stroke="#d9d9d9" stroke-width="1.2"/>
<line x1="61.7" y1="1112" x2="416.2" y2="1112" stroke="#d9d9d9" stroke-width="1.2"/>
<rect x="248.3" y="999" width="97.5" height="36" fill="#fff"/>
<line x1="61.7" y1="1133.2" x2="416.2" y2="1133.2" stroke="#c6c6c6" stroke-width="1.5"/>
<line x1="61.7" y1="922.8" x2="61.7" y2="1133.2" stroke="#c6c6c6" stroke-width="1.3"/>
<text x="52.3" y="926.5" text-anchor="end" font-size="10.6" fill="#595959" textLength="27.2" lengthAdjust="spacingAndGlyphs">1.E+09</text>
<text x="52.3" y="947.4" text-anchor="end" font-size="10.6" fill="#595959" textLength="27.2" lengthAdjust="spacingAndGlyphs">1.E+08</text>
<text x="52.3" y="968.3" text-anchor="end" font-size="10.6" fill="#595959" textLength="27.2" lengthAdjust="spacingAndGlyphs">1.E+07</text>
<text x="52.3" y="989.1" text-anchor="end" font-size="10.6" fill="#595959" textLength="27.2" lengthAdjust="spacingAndGlyphs">1.E+06</text>
<text x="52.3" y="1010.1" text-anchor="end" font-size="10.6" fill="#595959" textLength="27.2" lengthAdjust="spacingAndGlyphs">1.E+05</text>
<text x="52.3" y="1030.9" text-anchor="end" font-size="10.6" fill="#595959" textLength="27.2" lengthAdjust="spacingAndGlyphs">1.E+04</text>
<text x="52.3" y="1052.4" text-anchor="end" font-size="10.6" fill="#595959" textLength="27.2" lengthAdjust="spacingAndGlyphs">1.E+03</text>
<text x="52.3" y="1073.4" text-anchor="end" font-size="10.6" fill="#595959" textLength="27.2" lengthAdjust="spacingAndGlyphs">1.E+02</text>
<text x="52.3" y="1095" text-anchor="end" font-size="10.6" fill="#595959" textLength="27.2" lengthAdjust="spacingAndGlyphs">1.E+01</text>
<text x="52.3" y="1115.7" text-anchor="end" font-size="10.6" fill="#595959" textLength="27.2" lengthAdjust="spacingAndGlyphs">1.E+00</text>
<text x="52.3" y="1136.9" text-anchor="end" font-size="10.6" fill="#595959" textLength="26.0" lengthAdjust="spacingAndGlyphs">1.E-01</text>
<text x="61.7" y="1151.6" text-anchor="middle" font-size="10.4" fill="#595959" textLength="5.3" lengthAdjust="spacingAndGlyphs">0</text>
<text x="78.6" y="1151.6" text-anchor="middle" font-size="10.4" fill="#595959" textLength="5.3" lengthAdjust="spacingAndGlyphs">1</text>
<text x="95.5" y="1151.6" text-anchor="middle" font-size="10.4" fill="#595959" textLength="5.3" lengthAdjust="spacingAndGlyphs">2</text>
<text x="112.3" y="1151.6" text-anchor="middle" font-size="10.4" fill="#595959" textLength="5.3" lengthAdjust="spacingAndGlyphs">3</text>
<text x="129.2" y="1151.6" text-anchor="middle" font-size="10.4" fill="#595959" textLength="5.3" lengthAdjust="spacingAndGlyphs">4</text>
<text x="146.1" y="1151.6" text-anchor="middle" font-size="10.4" fill="#595959" textLength="5.3" lengthAdjust="spacingAndGlyphs">5</text>
<text x="163" y="1151.6" text-anchor="middle" font-size="10.4" fill="#595959" textLength="5.3" lengthAdjust="spacingAndGlyphs">6</text>
<text x="179.9" y="1151.6" text-anchor="middle" font-size="10.4" fill="#595959" textLength="5.3" lengthAdjust="spacingAndGlyphs">7</text>
<text x="196.7" y="1151.6" text-anchor="middle" font-size="10.4" fill="#595959" textLength="5.3" lengthAdjust="spacingAndGlyphs">8</text>
<text x="213.6" y="1151.6" text-anchor="middle" font-size="10.4" fill="#595959" textLength="5.3" lengthAdjust="spacingAndGlyphs">9</text>
<text x="230.5" y="1151.6" text-anchor="middle" font-size="10.4" fill="#595959" textLength="10.5" lengthAdjust="spacingAndGlyphs">10</text>
<text x="247.4" y="1151.6" text-anchor="middle" font-size="10.4" fill="#595959" textLength="10.5" lengthAdjust="spacingAndGlyphs">11</text>
<text x="264.3" y="1151.6" text-anchor="middle" font-size="10.4" fill="#595959" textLength="10.5" lengthAdjust="spacingAndGlyphs">12</text>
<text x="281.2" y="1151.6" text-anchor="middle" font-size="10.4" fill="#595959" textLength="10.5" lengthAdjust="spacingAndGlyphs">13</text>
<text x="298" y="1151.6" text-anchor="middle" font-size="10.4" fill="#595959" textLength="10.5" lengthAdjust="spacingAndGlyphs">14</text>
<text x="314.9" y="1151.6" text-anchor="middle" font-size="10.4" fill="#595959" textLength="10.5" lengthAdjust="spacingAndGlyphs">15</text>
<text x="331.8" y="1151.6" text-anchor="middle" font-size="10.4" fill="#595959" textLength="10.5" lengthAdjust="spacingAndGlyphs">16</text>
<text x="348.7" y="1151.6" text-anchor="middle" font-size="10.4" fill="#595959" textLength="10.5" lengthAdjust="spacingAndGlyphs">17</text>
<text x="365.6" y="1151.6" text-anchor="middle" font-size="10.4" fill="#595959" textLength="10.5" lengthAdjust="spacingAndGlyphs">18</text>
<text x="382.4" y="1151.6" text-anchor="middle" font-size="10.4" fill="#595959" textLength="10.5" lengthAdjust="spacingAndGlyphs">19</text>
<text x="399.3" y="1151.6" text-anchor="middle" font-size="10.4" fill="#595959" textLength="10.5" lengthAdjust="spacingAndGlyphs">20</text>
<text x="416.2" y="1151.6" text-anchor="middle" font-size="10.4" fill="#595959" textLength="10.5" lengthAdjust="spacingAndGlyphs">21</text>
<text x="184.4" y="913.5" font-size="14.6" fill="#595959" textLength="129" lengthAdjust="spacingAndGlyphs">Polyester sports shirt</text>
<text x="211.3" y="1166.9" font-size="10.4" font-weight="bold" fill="#000" textLength="53.6" lengthAdjust="spacingAndGlyphs">Time (Days)</text>
<text transform="translate(19.1 1099.5) rotate(-90)" x="0" y="0" font-size="10.4" font-weight="bold" fill="#000" textLength="142.1" lengthAdjust="spacingAndGlyphs">units recovered per coupon</text>
<polyline points="61.7,943.5 63.3,961.1 78.7,959.8 95,977.4 112.4,973.1 146.4,970.8 180.4,963.5 298,962.7 416.4,965.8" fill="none" stroke="#3f5d9c" stroke-width="1.75" stroke-linejoin="round"/>
<polyline points="61.7,1030 63,1107.4 78.7,1114.4 95,1114.4 112,1114.4 146.4,1114.3 180.3,1114.3" fill="none" stroke="#e07a35" stroke-width="1.75" stroke-linejoin="round"/>
<line x1="61.7" y1="1114.3" x2="416.2" y2="1114.3" stroke="#6a6a6a" stroke-width="1.3" stroke-dasharray="3.8 3.5"/>
<path d="M63.3 958.5V963.5M61 958.5H65.6M61 963.5H65.6" stroke="#2b3f66" stroke-width="1.1" fill="none"/>
<path d="M78.4 956.4V963.6M76.1 956.4H80.7M76.1 963.6H80.7" stroke="#2b3f66" stroke-width="1.1" fill="none"/>
<path d="M112.4 970.3V976.7M110.1 970.3H114.7M110.1 976.7H114.7" stroke="#2b3f66" stroke-width="1.1" fill="none"/>
<path d="M146.4 963.6V970.8M144.1 963.6H148.7" stroke="#2b3f66" stroke-width="1.1" fill="none"/>
<path d="M180.4 960.4V966.9M178.1 960.4H182.7M178.1 966.9H182.7" stroke="#2b3f66" stroke-width="1.1" fill="none"/>
<path d="M298 960V965.5M295.7 960H300.3M295.7 965.5H300.3" stroke="#2b3f66" stroke-width="1.1" fill="none"/>
<path d="M63 1098.5V1107.4M60.7 1098.5H65.3" stroke="#404040" stroke-width="1.1" fill="none"/>
<circle cx="61.7" cy="943.5" r="3.3" fill="#4472C4"/>
<circle cx="63.3" cy="961.1" r="3.3" fill="#4472C4"/>
<circle cx="78.7" cy="959.8" r="3.3" fill="#4472C4"/>
<circle cx="95" cy="977.4" r="3.3" fill="#4472C4"/>
<circle cx="112.4" cy="973.1" r="3.3" fill="#4472C4"/>
<circle cx="146.4" cy="970.8" r="3.3" fill="#4472C4"/>
<circle cx="180.4" cy="963.5" r="3.3" fill="#4472C4"/>
<circle cx="298" cy="962.7" r="3.3" fill="#4472C4"/>
<circle cx="416.4" cy="965.8" r="3.3" fill="#4472C4"/>
<circle cx="61.7" cy="1030" r="3.2" fill="#ED7D31"/>
<circle cx="63" cy="1107.4" r="3.2" fill="#ED7D31"/>
<circle cx="78.7" cy="1114.4" r="3.2" fill="#ED7D31"/>
<circle cx="95" cy="1114.4" r="3.2" fill="#ED7D31"/>
<circle cx="112" cy="1114.4" r="3.2" fill="#ED7D31"/>
<circle cx="146.4" cy="1114.3" r="3.2" fill="#ED7D31"/>
<circle cx="180.3" cy="1114.3" r="3.2" fill="#ED7D31"/>
<line x1="265.8" y1="1009.3" x2="294.2" y2="1009.3" stroke="#3f5d9c" stroke-width="2"/>
<line x1="265.8" y1="1025.4" x2="294.2" y2="1025.4" stroke="#e07a35" stroke-width="2"/>
<circle cx="280" cy="1009.3" r="3.3" fill="#4472C4"/>
<circle cx="280" cy="1025.4" r="3.2" fill="#ED7D31"/>
<text x="296.8" y="1012.6" font-size="9.6" fill="#595959" textLength="33.9" lengthAdjust="spacingAndGlyphs">copy no.</text>
<text x="296.8" y="1028.7" font-size="9.6" fill="#595959" textLength="13.6" lengthAdjust="spacingAndGlyphs">pfu</text>
<line x1="496.4" y1="923.7" x2="852.1" y2="923.7" stroke="#d9d9d9" stroke-width="1.2"/>
<line x1="496.4" y1="945" x2="852.1" y2="945" stroke="#d9d9d9" stroke-width="1.2"/>
<line x1="496.4" y1="966" x2="852.1" y2="966" stroke="#d9d9d9" stroke-width="1.2"/>
<line x1="496.4" y1="986.3" x2="852.1" y2="986.3" stroke="#d9d9d9" stroke-width="1.2"/>
<line x1="496.4" y1="1007.3" x2="852.1" y2="1007.3" stroke="#d9d9d9" stroke-width="1.2"/>
<line x1="496.4" y1="1028.8" x2="852.1" y2="1028.8" stroke="#d9d9d9" stroke-width="1.2"/>
<line x1="496.4" y1="1050.2" x2="852.1" y2="1050.2" stroke="#d9d9d9" stroke-width="1.2"/>
<line x1="496.4" y1="1071.1" x2="852.1" y2="1071.1" stroke="#d9d9d9" stroke-width="1.2"/>
<line x1="496.4" y1="1092.5" x2="852.1" y2="1092.5" stroke="#d9d9d9" stroke-width="1.2"/>
<line x1="496.4" y1="1114" x2="852.1" y2="1114" stroke="#d9d9d9" stroke-width="1.2"/>
<rect x="701" y="1013" width="92.7" height="32" fill="#fff"/>
<line x1="496.4" y1="1135.5" x2="852.1" y2="1135.5" stroke="#c6c6c6" stroke-width="1.5"/>
<line x1="496.4" y1="923.7" x2="496.4" y2="1135.5" stroke="#c6c6c6" stroke-width="1.3"/>
<text x="487" y="927.4" text-anchor="end" font-size="10.6" fill="#595959" textLength="27.2" lengthAdjust="spacingAndGlyphs">1.E+09</text>
<text x="487" y="948.7" text-anchor="end" font-size="10.6" fill="#595959" textLength="27.2" lengthAdjust="spacingAndGlyphs">1.E+08</text>
<text x="487" y="969.7" text-anchor="end" font-size="10.6" fill="#595959" textLength="27.2" lengthAdjust="spacingAndGlyphs">1.E+07</text>
<text x="487" y="990" text-anchor="end" font-size="10.6" fill="#595959" textLength="27.2" lengthAdjust="spacingAndGlyphs">1.E+06</text>
<text x="487" y="1011" text-anchor="end" font-size="10.6" fill="#595959" textLength="27.2" lengthAdjust="spacingAndGlyphs">1.E+05</text>
<text x="487" y="1032.5" text-anchor="end" font-size="10.6" fill="#595959" textLength="27.2" lengthAdjust="spacingAndGlyphs">1.E+04</text>
<text x="487" y="1053.9" text-anchor="end" font-size="10.6" fill="#595959" textLength="27.2" lengthAdjust="spacingAndGlyphs">1.E+03</text>
<text x="487" y="1074.8" text-anchor="end" font-size="10.6" fill="#595959" textLength="27.2" lengthAdjust="spacingAndGlyphs">1.E+02</text>
<text x="487" y="1096.2" text-anchor="end" font-size="10.6" fill="#595959" textLength="27.2" lengthAdjust="spacingAndGlyphs">1.E+01</text>
<text x="487" y="1117.7" text-anchor="end" font-size="10.6" fill="#595959" textLength="27.2" lengthAdjust="spacingAndGlyphs">1.E+00</text>
<text x="487" y="1139.2" text-anchor="end" font-size="10.6" fill="#595959" textLength="26.0" lengthAdjust="spacingAndGlyphs">1.E-01</text>
<text x="496.4" y="1153.9" text-anchor="middle" font-size="10.4" fill="#595959" textLength="5.3" lengthAdjust="spacingAndGlyphs">0</text>
<text x="513.3" y="1153.9" text-anchor="middle" font-size="10.4" fill="#595959" textLength="5.3" lengthAdjust="spacingAndGlyphs">1</text>
<text x="530.3" y="1153.9" text-anchor="middle" font-size="10.4" fill="#595959" textLength="5.3" lengthAdjust="spacingAndGlyphs">2</text>
<text x="547.2" y="1153.9" text-anchor="middle" font-size="10.4" fill="#595959" textLength="5.3" lengthAdjust="spacingAndGlyphs">3</text>
<text x="564.2" y="1153.9" text-anchor="middle" font-size="10.4" fill="#595959" textLength="5.3" lengthAdjust="spacingAndGlyphs">4</text>
<text x="581.1" y="1153.9" text-anchor="middle" font-size="10.4" fill="#595959" textLength="5.3" lengthAdjust="spacingAndGlyphs">5</text>
<text x="598" y="1153.9" text-anchor="middle" font-size="10.4" fill="#595959" textLength="5.3" lengthAdjust="spacingAndGlyphs">6</text>
<text x="615" y="1153.9" text-anchor="middle" font-size="10.4" fill="#595959" textLength="5.3" lengthAdjust="spacingAndGlyphs">7</text>
<text x="631.9" y="1153.9" text-anchor="middle" font-size="10.4" fill="#595959" textLength="5.3" lengthAdjust="spacingAndGlyphs">8</text>
<text x="648.8" y="1153.9" text-anchor="middle" font-size="10.4" fill="#595959" textLength="5.3" lengthAdjust="spacingAndGlyphs">9</text>
<text x="665.8" y="1153.9" text-anchor="middle" font-size="10.4" fill="#595959" textLength="10.5" lengthAdjust="spacingAndGlyphs">10</text>
<text x="682.7" y="1153.9" text-anchor="middle" font-size="10.4" fill="#595959" textLength="10.5" lengthAdjust="spacingAndGlyphs">11</text>
<text x="699.7" y="1153.9" text-anchor="middle" font-size="10.4" fill="#595959" textLength="10.5" lengthAdjust="spacingAndGlyphs">12</text>
<text x="716.6" y="1153.9" text-anchor="middle" font-size="10.4" fill="#595959" textLength="10.5" lengthAdjust="spacingAndGlyphs">13</text>
<text x="733.5" y="1153.9" text-anchor="middle" font-size="10.4" fill="#595959" textLength="10.5" lengthAdjust="spacingAndGlyphs">14</text>
<text x="750.5" y="1153.9" text-anchor="middle" font-size="10.4" fill="#595959" textLength="10.5" lengthAdjust="spacingAndGlyphs">15</text>
<text x="767.4" y="1153.9" text-anchor="middle" font-size="10.4" fill="#595959" textLength="10.5" lengthAdjust="spacingAndGlyphs">16</text>
<text x="784.3" y="1153.9" text-anchor="middle" font-size="10.4" fill="#595959" textLength="10.5" lengthAdjust="spacingAndGlyphs">17</text>
<text x="801.3" y="1153.9" text-anchor="middle" font-size="10.4" fill="#595959" textLength="10.5" lengthAdjust="spacingAndGlyphs">18</text>
<text x="818.2" y="1153.9" text-anchor="middle" font-size="10.4" fill="#595959" textLength="10.5" lengthAdjust="spacingAndGlyphs">19</text>
<text x="835.2" y="1153.9" text-anchor="middle" font-size="10.4" fill="#595959" textLength="10.5" lengthAdjust="spacingAndGlyphs">20</text>
<text x="852.1" y="1153.9" text-anchor="middle" font-size="10.4" fill="#595959" textLength="10.5" lengthAdjust="spacingAndGlyphs">21</text>
<text x="633.5" y="914.6" font-size="14.6" fill="#595959" textLength="82.7" lengthAdjust="spacingAndGlyphs">Cotton t-shirt</text>
<text x="646.8" y="1173.2" font-size="10.4" font-weight="bold" fill="#000" textLength="54" lengthAdjust="spacingAndGlyphs">Time (Days)</text>
<text transform="translate(455.2 1100.2) rotate(-90)" x="0" y="0" font-size="10.4" font-weight="bold" fill="#000" textLength="142.6" lengthAdjust="spacingAndGlyphs">units recovered per coupon</text>
<polyline points="496.4,938.9 498.1,944.1 513.5,950 530.5,950 547.7,955.2 581.7,959.6 615.2,978.3 733.5,969.4 852.1,972.6" fill="none" stroke="#3f5d9c" stroke-width="1.75" stroke-linejoin="round"/>
<polyline points="496.4,1006.5 498.7,1034.6 513.5,1061.1 530.7,1080.6 547.4,1107 581.7,1115.7 615.3,1115.7" fill="none" stroke="#e07a35" stroke-width="1.75" stroke-linejoin="round"/>
<line x1="496.4" y1="1115.4" x2="852.1" y2="1115.4" stroke="#6f6f6f" stroke-width="1.5" stroke-dasharray="3.8 3.5"/>
<path d="M547.7 950.9V961.1M545.4 950.9H550M545.4 961.1H550" stroke="#2b3f66" stroke-width="1.1" fill="none"/>
<path d="M733.5 966V975M731.2 966H735.8M731.2 975H735.8" stroke="#2b3f66" stroke-width="1.1" fill="none"/>
<path d="M496.5 1002.4V1014.2M494.2 1002.4H498.8M494.2 1014.2H498.8" stroke="#404040" stroke-width="1.1" fill="none"/>
<path d="M498.7 1028.1V1058.9M496.4 1028.1H501M496.4 1058.9H501" stroke="#404040" stroke-width="1.1" fill="none"/>
<path d="M513.5 1055.2V1080M511.2 1055.2H515.8M511.2 1080H515.8" stroke="#404040" stroke-width="1.1" fill="none"/>
<path d="M530.7 1075V1094.1M528.4 1075H533M528.4 1094.1H533" stroke="#404040" stroke-width="1.1" fill="none"/>
<path d="M547.4 1097.2V1107M545.1 1097.2H549.7" stroke="#404040" stroke-width="1.1" fill="none"/>
<circle cx="496.4" cy="938.9" r="3.3" fill="#4472C4"/>
<circle cx="498.1" cy="944.1" r="3.3" fill="#4472C4"/>
<circle cx="513.5" cy="950" r="3.3" fill="#4472C4"/>
<circle cx="530.5" cy="950" r="3.3" fill="#4472C4"/>
<circle cx="547.7" cy="955.2" r="3.3" fill="#4472C4"/>
<circle cx="581.7" cy="959.6" r="3.3" fill="#4472C4"/>
<circle cx="615.2" cy="978.3" r="3.3" fill="#4472C4"/>
<circle cx="733.5" cy="969.4" r="3.3" fill="#4472C4"/>
<circle cx="852.1" cy="972.6" r="3.3" fill="#4472C4"/>
<circle cx="496.4" cy="1006.5" r="3.2" fill="#ED7D31"/>
<circle cx="498.7" cy="1034.6" r="3.2" fill="#ED7D31"/>
<circle cx="513.5" cy="1061.1" r="3.2" fill="#ED7D31"/>
<circle cx="530.7" cy="1080.6" r="3.2" fill="#ED7D31"/>
<circle cx="547.4" cy="1107" r="3.2" fill="#ED7D31"/>
<circle cx="581.7" cy="1115.7" r="3.2" fill="#ED7D31"/>
<circle cx="615.3" cy="1115.7" r="3.2" fill="#ED7D31"/>
<line x1="716.2" y1="1021.1" x2="744.4" y2="1021.1" stroke="#3f5d9c" stroke-width="2"/>
<line x1="716.2" y1="1037.1" x2="744.4" y2="1037.1" stroke="#e07a35" stroke-width="2"/>
<circle cx="730.3" cy="1021.1" r="3.3" fill="#4472C4"/>
<circle cx="730.3" cy="1037.1" r="3.2" fill="#ED7D31"/>
<text x="747" y="1024.4" font-size="9.6" fill="#595959" textLength="33.6" lengthAdjust="spacingAndGlyphs">copy no.</text>
<text x="747" y="1040.4" font-size="9.6" fill="#595959" textLength="13.6" lengthAdjust="spacingAndGlyphs">pfu</text>
</g>
</svg>
</body></html>
